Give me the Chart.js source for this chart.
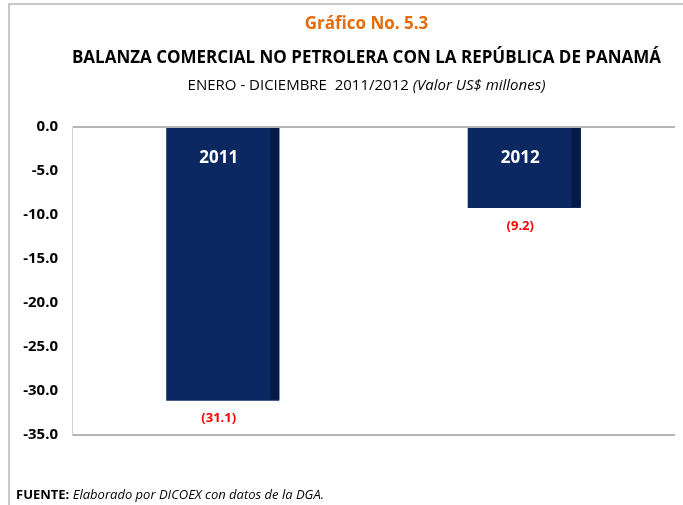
<!DOCTYPE html>
<html>
<head>
<meta charset="utf-8">
<script src="https://cdn.jsdelivr.net/npm/chart.js@4"></script>
<style>
  html, body { margin: 0; padding: 0; background: #fff; }
  #wrap { position: relative; width: 683px; height: 505px; overflow: hidden;
    font-family: 'Liberation Sans Narrow', 'Arial Narrow', 'Open Sans', sans-serif; }
  #frame { position: absolute; left: 8px; top: 3px; width: 700px; height: 520px;
    border-left: 2px solid #c8c8c8; border-top: 2px solid #c8c8c8; }
  #chartBox { position: absolute; left: 0; top: 0; width: 683px; height: 505px; }
  .t { position: absolute; left: 0; width: 683px; text-align: center; white-space: nowrap; }
  #t1 { top: 11px; left: 25px; color: #e46c0a; font-weight: bold; font-size: 17px; }
  #t2 { top: 45px; left: 25px; color: #000; font-weight: bold; font-size: 17px; }
  #t3 { top: 74px; left: 25px; color: #000; font-size: 15px; }
  #foot { position: absolute; left: 16px; top: 485px; font-size: 13px; white-space: nowrap; }
</style>
</head>
<body>
<div id="wrap">
  <div id="frame"></div>
  <div id="chartBox"><canvas id="balanzaChart" width="683" height="505"></canvas></div>
  <div class="t" id="t1">Gráfico No. 5.3</div>
  <div class="t" id="t2">BALANZA COMERCIAL NO PETROLERA CON LA REPÚBLICA DE PANAMÁ</div>
  <div class="t" id="t3">ENERO - DICIEMBRE&nbsp; 2011/2012 <i>(Valor US$ millones)</i></div>
  <div id="foot"><b>FUENTE:</b> <i>Elaborado por DICOEX con datos de la DGA.</i></div>
</div>
<script>
// Data
const years = ['2011', '2012'];
const balance = [-31.1, -9.2];

const ctx = document.getElementById('balanzaChart').getContext('2d');
const fontFamily = "'Liberation Sans Narrow', 'Arial Narrow', 'Open Sans', sans-serif";

// Dark strip on right side of each bar + labels
const barDecor = {
  id: 'barDecor',
  afterDatasetsDraw(chart) {
    const c = chart.ctx;
    const meta = chart.getDatasetMeta(0);
    meta.data.forEach((bar, i) => {
      const right = bar.x + bar.width / 2;
      const top = Math.min(bar.y, bar.base);
      const bottom = Math.max(bar.y, bar.base);
      c.save();
      c.fillStyle = '#051a45';
      c.fillRect(right - 9, top, 9, bottom - top - 1);
      // year label inside bar
      c.fillStyle = '#ffffff';
      c.font = 'bold 17px ' + fontFamily;
      c.textAlign = 'center';
      c.textBaseline = 'middle';
      c.fillText(years[i], bar.x - 4, top + 30);
      // value label below bar
      c.fillStyle = '#ff0000';
      c.font = 'bold 13px ' + fontFamily;
      c.fillText('(' + Math.abs(balance[i]).toFixed(1) + ')', bar.x - 4, bottom + 18);
      c.restore();
    });
  }
};

new Chart(ctx, {
  type: 'bar',
  data: {
    labels: years,
    datasets: [{
      data: balance,
      backgroundColor: '#0b2863',
      borderWidth: 0,
      barPercentage: 0.375,
      categoryPercentage: 1.0,
    }],
  },
  options: {
    responsive: false,
    animation: false,
    layout: { padding: { top: 127, bottom: 70, right: 8, left: 0 } },
    plugins: {
      legend: { display: false },
      tooltip: { enabled: false },
    },
    scales: {
      x: {
        display: false,
      },
      y: {
        min: -35,
        max: 0,
        ticks: {
          stepSize: 5,
          padding: 14,
          color: '#000',
          font: { family: fontFamily, size: 15, weight: 'bold' },
          callback: (v) => v.toFixed(1),
        },
        grid: {
          drawTicks: false,
          color: (c) => (c.tick && (c.tick.value === 0 || c.tick.value === -35)) ? '#b4b4b4' : 'rgba(0,0,0,0)',
          lineWidth: 2,
        },
        border: { display: true, color: '#d0d0d0', width: 1 },
        afterFit: (scale) => { scale.width = 72; },
      },
    },
  },
  plugins: [barDecor],
});
</script>
</body>
</html>
